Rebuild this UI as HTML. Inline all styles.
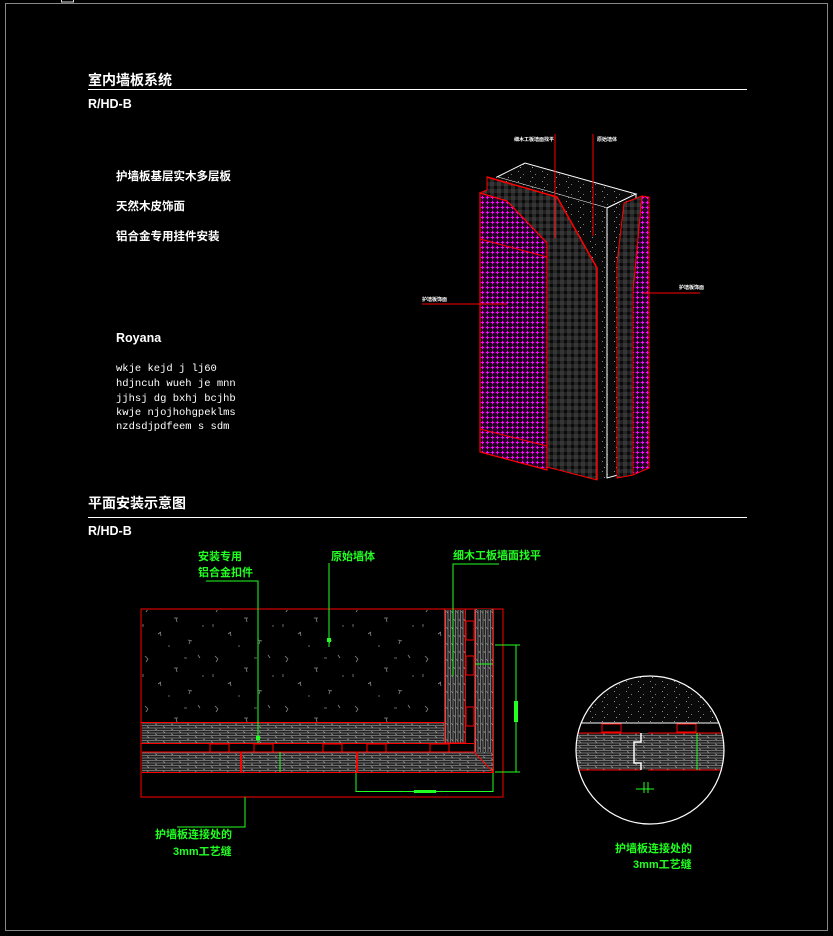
<!DOCTYPE html>
<html><head><meta charset="utf-8"><style>
html,body{margin:0;padding:0;background:#000;}
svg{display:block}
.w{fill:#fff;font-family:"Liberation Sans","Noto Sans CJK SC",sans-serif;font-weight:bold}
.g{fill:#22ff22;font-family:"Liberation Sans","Noto Sans CJK SC",sans-serif;font-weight:bold;font-size:11px}
.m{fill:#fff;font-family:"Liberation Mono","DejaVu Sans Mono",monospace;font-size:10.5px}
</style></head><body>
<svg width="833" height="936" viewBox="0 0 833 936" xmlns="http://www.w3.org/2000/svg">
<defs>
<pattern id="stone" width="70" height="50" patternUnits="userSpaceOnUse">
<rect width="70" height="50" fill="#000"/>
<path d="M5 6l3 3M8 9l-2 3M34 18l4 0M36 18l1 4M58 5l2 3M18 34l3-2M20 32l1 4M48 40l4 1M50 41l-1 3M62 26l2 0M28 46l2 0M3 24l0 3M44 8l3 0" stroke="#888" stroke-width="0.8" fill="none"/>
</pattern>
<pattern id="speck" width="12" height="10" patternUnits="userSpaceOnUse">
<rect width="12" height="10" fill="#0a0a0a"/>
<rect x="2" y="1" width="1" height="1" fill="#888"/><rect x="7" y="4" width="1" height="1" fill="#777"/><rect x="4" y="7" width="1" height="1" fill="#999"/>
</pattern>
<pattern id="grid" width="7" height="7" patternUnits="userSpaceOnUse">
<rect width="7" height="7" fill="#0a0a0a"/>
<path d="M0 1H7M0 3H7M1 0V7M3 0V7" stroke="#666" stroke-width="0.6"/>
</pattern>
<pattern id="mag" width="5" height="5" patternUnits="userSpaceOnUse">
<rect width="5" height="5" fill="#200020"/>
<path d="M2.5 0.8V4.2M0.8 2.5H4.2" stroke="#ff00ff" stroke-width="1"/>
</pattern>
<pattern id="wood" width="16" height="5" patternUnits="userSpaceOnUse">
<rect width="16" height="5" fill="#222"/>
<path d="M0 0.5H16M0 3H16" stroke="#888" stroke-width="0.8"/>
<path d="M3 1.5l2 1M11 3.8l2 1" stroke="#999" stroke-width="0.7"/>
</pattern>
<pattern id="woodv" width="5" height="16" patternUnits="userSpaceOnUse">
<rect width="5" height="16" fill="#222"/>
<path d="M0.5 0V16M3 0V16" stroke="#888" stroke-width="0.8"/>
<path d="M1.5 3l1 2M3.8 11l1 2" stroke="#999" stroke-width="0.7"/>
</pattern>
<clipPath id="cc"><circle cx="650" cy="750" r="74"/></clipPath>
</defs>
<rect width="833" height="936" fill="#000"/>
<rect x="5.5" y="3.5" width="822" height="927" fill="none" stroke="#888" stroke-width="1"/>
<rect x="61.5" y="-2" width="12" height="4" fill="none" stroke="#ddd"/>

<text x="88" y="85" class="w" font-size="14">室内墙板系统</text>
<line x1="88" y1="89.5" x2="747" y2="89.5" stroke="#fff"/>
<text x="88" y="108" class="w" font-size="12.5">R/HD-B</text>
<text x="116" y="180" class="w" font-size="11.5">护墙板基层实木多层板</text>
<text x="116" y="210" class="w" font-size="11.5">天然木皮饰面</text>
<text x="116" y="240" class="w" font-size="11.5">铝合金专用挂件安装</text>
<text x="116" y="342" class="w" font-size="12.5">Royana</text>
<text x="116" y="371" class="m">wkje kejd j  lj60</text>
<text x="116" y="386" class="m">hdjncuh wueh je mnn</text>
<text x="116" y="401" class="m">jjhsj dg bxhj bcjhb</text>
<text x="116" y="415" class="m">kwje njojhohgpeklms</text>
<text x="116" y="429" class="m">nzdsdjpdfeem s sdm</text>

<polygon points="497,177 525,163 636,194 607,208" fill="url(#speck)" stroke="#fff" stroke-width="1"/>
<polygon points="607,208 636,194 636,470 607,478" fill="url(#speck)" stroke="#fff" stroke-width="1"/>
<polygon points="487,177 557,197 597,268 597,480 547,467 547,243 507,201 480,193 487,190" fill="url(#grid)" stroke="#f00" stroke-width="1"/>
<polygon points="487,177 557,197 597,268 597,480 607,478 607,208 497,177" fill="url(#speck)" stroke="none"/>
<polyline points="487,177 557,197 597,268 597,480" fill="none" stroke="#f00" stroke-width="1.5"/>
<line x1="607" y1="208" x2="607" y2="478" stroke="#fff"/>
<polygon points="480,193 507,201 547,243 547,470 480,452" fill="url(#mag)" stroke="#f00" stroke-width="1.2"/>
<line x1="480" y1="239" x2="547" y2="257" stroke="#f00"/>
<line x1="480" y1="429" x2="547" y2="446" stroke="#f00"/>
<polygon points="617,263 624,203 642,196 633,292 633,475 617,478" fill="url(#grid)" stroke="#f00" stroke-width="1"/>
<polygon points="642,196 649,197 649,468 633,475 633,292" fill="url(#mag)" stroke="#f00" stroke-width="1"/>
<line x1="555" y1="134" x2="555" y2="238" stroke="#f00"/>
<line x1="593" y1="134" x2="593" y2="236" stroke="#f00"/>
<line x1="422" y1="304" x2="507" y2="304" stroke="#f00"/>
<line x1="643" y1="293" x2="700" y2="293" stroke="#f00"/>
<text x="514" y="141" class="w" font-size="5">细木工板墙面找平</text>
<text x="597" y="141" class="w" font-size="5">原始墙体</text>
<text x="422" y="301" class="w" font-size="5">护墙板饰面</text>
<text x="679" y="289" class="w" font-size="5">护墙板饰面</text>

<text x="88" y="508" class="w" font-size="14">平面安装示意图</text>
<line x1="88" y1="517.5" x2="747" y2="517.5" stroke="#fff"/>
<text x="88" y="535" class="w" font-size="12.5">R/HD-B</text>

<rect x="141" y="609" width="362" height="188" fill="none" stroke="#f00"/>
<rect x="142" y="610" width="302" height="112" fill="url(#stone)"/>
<rect x="142" y="723" width="302" height="20" fill="url(#wood)"/>
<line x1="141" y1="722.5" x2="445" y2="722.5" stroke="#f00"/>
<rect x="445" y="610" width="20" height="133" fill="url(#woodv)"/>
<polyline points="444.5,609 444.5,743 465.5,743 465.5,609" fill="none" stroke="#f00"/>
<line x1="141" y1="743.5" x2="475" y2="743.5" stroke="#f00"/>
<g fill="none" stroke="#f00" stroke-width="1">
<rect x="210" y="744" width="19" height="8"/><rect x="254" y="744" width="19" height="8"/><rect x="323" y="744" width="19" height="8"/><rect x="367" y="744" width="19" height="8"/><rect x="430" y="744" width="19" height="8"/>
<rect x="466" y="621" width="8" height="19"/><rect x="466" y="656" width="8" height="19"/><rect x="466" y="707" width="8" height="19"/>
</g>
<polygon points="142,752 474,752 474,609 493,609 493,772 142,772" fill="url(#wood)"/>
<rect x="475" y="610" width="18" height="142" fill="url(#woodv)"/>
<polyline points="474.5,609 474.5,752 142,752" fill="none" stroke="#f00"/>
<line x1="474" y1="752" x2="493" y2="772" stroke="#f00"/>
<polyline points="493.5,609 493.5,772.5 142,772.5" fill="none" stroke="#f00"/>
<line x1="241" y1="752" x2="241" y2="772" stroke="#f00" stroke-width="2"/>
<line x1="357" y1="752" x2="357" y2="772" stroke="#f00" stroke-width="2"/>
<g stroke="#22ff22" fill="none" stroke-width="1">
<polyline points="206,581 258,581 258,743"/>
<polyline points="329,563 329,647"/>
<polyline points="499,564 453,564 453,676"/>
<polyline points="245,797 245,827 177,827"/>
<line x1="356" y1="773" x2="356" y2="792"/>
<line x1="493" y1="773" x2="493" y2="792"/>
<line x1="356" y1="791.5" x2="493" y2="791.5"/>
<line x1="495" y1="645" x2="520" y2="645"/>
<line x1="495" y1="772" x2="520" y2="772"/>
<line x1="516" y1="645" x2="516" y2="772"/>
<line x1="475" y1="664" x2="493" y2="664"/>
<line x1="280" y1="752" x2="280" y2="772"/>
</g>
<rect x="414" y="790" width="22" height="3" fill="#22ff22"/>
<rect x="514" y="701" width="4" height="21" fill="#22ff22"/>
<rect x="327" y="638" width="4" height="4" fill="#22ff22"/>
<rect x="256" y="736" width="4" height="4" fill="#22ff22"/>
<text x="198" y="560" class="g">安装专用</text>
<text x="198" y="576" class="g">铝合金扣件</text>
<text x="331" y="560" class="g">原始墙体</text>
<text x="453" y="559" class="g">细木工板墙面找平</text>
<text x="155" y="838" class="g">护墙板连接处的</text>
<text x="173" y="855" class="g">3mm工艺缝</text>

<g clip-path="url(#cc)">
<rect x="570" y="670" width="160" height="53" fill="url(#speck)"/>
<line x1="570" y1="723" x2="730" y2="723" stroke="#fff"/>
<rect x="570" y="733" width="160" height="37" fill="url(#wood)"/>
<line x1="570" y1="733" x2="640" y2="733" stroke="#f00"/>
<line x1="648" y1="733" x2="730" y2="733" stroke="#f00"/>
<line x1="570" y1="770" x2="641" y2="770" stroke="#f00"/>
<line x1="648" y1="770" x2="730" y2="770" stroke="#f00"/>
<rect x="602" y="724" width="19" height="8" fill="none" stroke="#f00"/>
<rect x="677" y="724" width="19" height="8" fill="none" stroke="#f00"/>
<polyline points="641,733 641,742 634,742 634,763 641,763 641,770" fill="none" stroke="#fff" stroke-width="1.5"/>
<line x1="697" y1="733" x2="697" y2="770" stroke="#22ff22"/>
</g>
<circle cx="650" cy="750" r="74" fill="none" stroke="#fff" stroke-width="1.2"/>
<line x1="636" y1="789" x2="654" y2="789" stroke="#22ff22"/>
<line x1="644" y1="782" x2="644" y2="793" stroke="#22ff22"/>
<line x1="648" y1="782" x2="648" y2="793" stroke="#22ff22"/>
<text x="615" y="852" class="g">护墙板连接处的</text>
<text x="633" y="868" class="g">3mm工艺缝</text>
</svg>
</body></html>
